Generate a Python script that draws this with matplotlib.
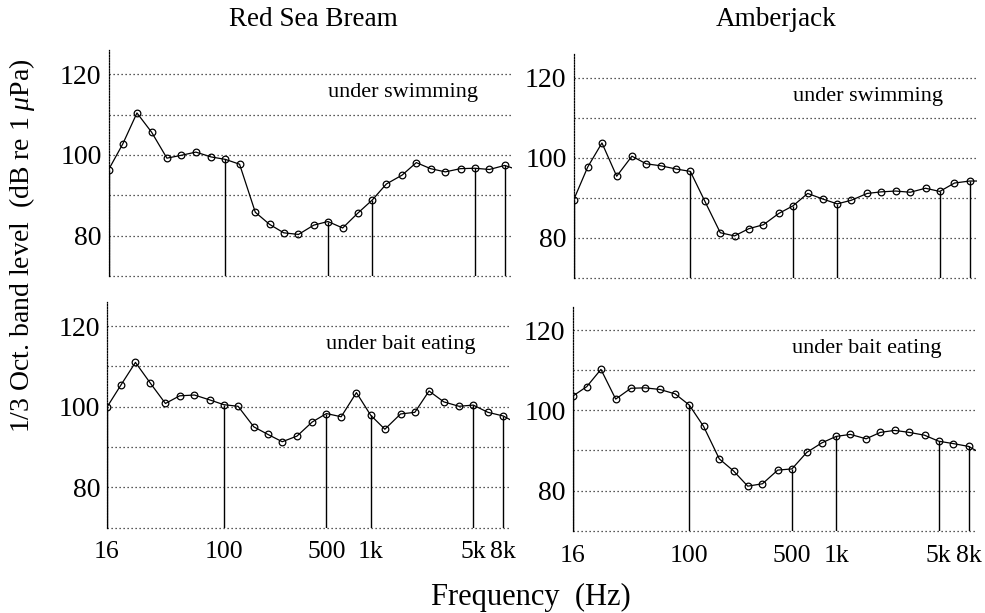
import numpy as np
import matplotlib
matplotlib.use("Agg")
import matplotlib.pyplot as plt

plt.rcParams['font.family'] = ['Liberation Serif', 'DejaVu Serif']
plt.rcParams['mathtext.fontset'] = 'custom'
plt.rcParams['mathtext.rm'] = 'Liberation Serif'
plt.rcParams['mathtext.it'] = 'Liberation Serif:italic'

# 1/3 octave band centre frequencies (Hz); the last band runs off the axis
freqs = [16, 20, 25, 31.5, 40, 50, 63, 80, 100, 125, 160, 200, 250, 315, 400,
         500, 630, 800, 1000, 1250, 1600, 2000, 2500, 3150, 4000, 5000, 6300,
         8000, 10000]

# band levels, dB re 1 uPa
bream_swim = [96.3, 102.7, 110.4, 105.6, 99.2, 99.9, 100.7, 99.5, 98.9, 97.7,
              85.8, 82.8, 80.7, 80.3, 82.6, 83.5, 81.9, 85.6, 88.8, 92.8, 95.0,
              98.1, 96.6, 95.8, 96.6, 96.7, 96.4, 97.4, 96.2]
bream_bait = [99.9, 105.5, 111.0, 105.9, 100.8, 102.7, 102.9, 101.7, 100.5,
              100.1, 95.0, 93.1, 91.3, 92.7, 96.2, 98.3, 97.5, 103.5, 97.9,
              94.4, 98.2, 98.6, 103.9, 101.2, 100.1, 100.4, 98.6, 97.7, 95.8]
amber_swim = [89.4, 97.7, 103.7, 95.4, 100.4, 98.5, 98.0, 97.2, 96.6, 89.3,
              81.3, 80.5, 82.3, 83.3, 86.1, 88.0, 91.1, 89.7, 88.5, 89.4, 91.1,
              91.5, 91.7, 91.4, 92.4, 91.6, 93.7, 94.2, 94.2]
amber_bait = [103.5, 105.9, 110.2, 102.8, 105.5, 105.6, 105.2, 104.1, 101.3,
              96.0, 87.9, 84.9, 81.1, 81.7, 85.1, 85.4, 89.5, 91.9, 93.5, 94.0,
              92.9, 94.5, 95.0, 94.5, 93.8, 92.3, 91.7, 91.0, 89.0]

# bands marked with a drop line, and the x tick labels
marked = [16, 100, 500, 1000, 5000, 8000]
xtick_labels = ['16', '100', '500', '1k', '5k', '8k']
grid_levels = [70, 80, 90, 100, 110, 120]
ytick_vals = [80, 100, 120]

W, H = 985, 613
fig = plt.figure(figsize=(W / 100, H / 100), dpi=100)


def px_axes(left, right, top, bottom):
    return fig.add_axes([left / W, 1 - bottom / H, (right - left) / W, (bottom - top) / H])


panels = [
    (px_axes(108.5, 511.5, 50, 276), bream_swim, 'under swimming', False),
    (px_axes(573.5, 976.5, 53.6, 278), amber_swim, 'under swimming', False),
    (px_axes(107, 510, 302, 527.5), bream_bait, 'under bait eating', True),
    (px_axes(572.5, 975.5, 306, 530.7), amber_bait, 'under bait eating', True),
]

for ax, vals, note, bottom_row in panels:
    ax.set_xscale('log')
    ax.set_xlim(16, 8900)
    ax.set_ylim(70, 126)

    # dotted level lines, the bottom one sits on the axis edge
    for lev in grid_levels:
        ax.axhline(lev, linestyle=(0, (1, 2.2)), color='#222222', lw=0.9,
                   clip_on=False, zorder=1)

    ax.plot(freqs, vals, '-o', color='black', lw=0.9, ms=4.8,
            mfc='none', mew=0.9, zorder=3)
    lookup = dict(zip(freqs, vals))
    ax.vlines(marked, 70, [lookup[f] for f in marked], color='black', lw=1.0,
              zorder=2)

    ax.set_yticks(ytick_vals)
    ax.set_yticklabels([str(v) for v in ytick_vals], fontsize=20)
    ax.set_xticks(marked)
    ax.xaxis.set_minor_locator(matplotlib.ticker.NullLocator())
    if bottom_row:
        ax.set_xticklabels(xtick_labels, fontsize=18.5)
    else:
        ax.set_xticklabels([])
    ax.tick_params(axis='y', length=0, pad=5)
    ax.tick_params(axis='x', length=0, pad=10)

    for side in ['top', 'right', 'bottom']:
        ax.spines[side].set_visible(False)
    ax.spines['left'].set_linestyle((0, (1, 1.2)))
    ax.spines['left'].set_linewidth(0.9)
    ax.set_facecolor('none')

    ax.text(0.73, 0.81, note, transform=ax.transAxes, ha='center',
            va='center', fontsize=16)

fig.text(313 / W, 1 - 19 / H, 'Red Sea Bream', ha='center', va='center', fontsize=19.5)
fig.text(776 / W, 1 - 19 / H, 'Amberjack', ha='center', va='center', fontsize=19.5)
fig.text(531 / W, 1 - 597 / H, 'Frequency  (Hz)', ha='center', va='center', fontsize=22)
fig.text(22 / W, 1 - 246 / H, r'1/3 Oct. band level  (dB re 1 $\mu$Pa)',
         ha='center', va='center', rotation=90, fontsize=20)

fig.savefig('out.png', dpi=100)
